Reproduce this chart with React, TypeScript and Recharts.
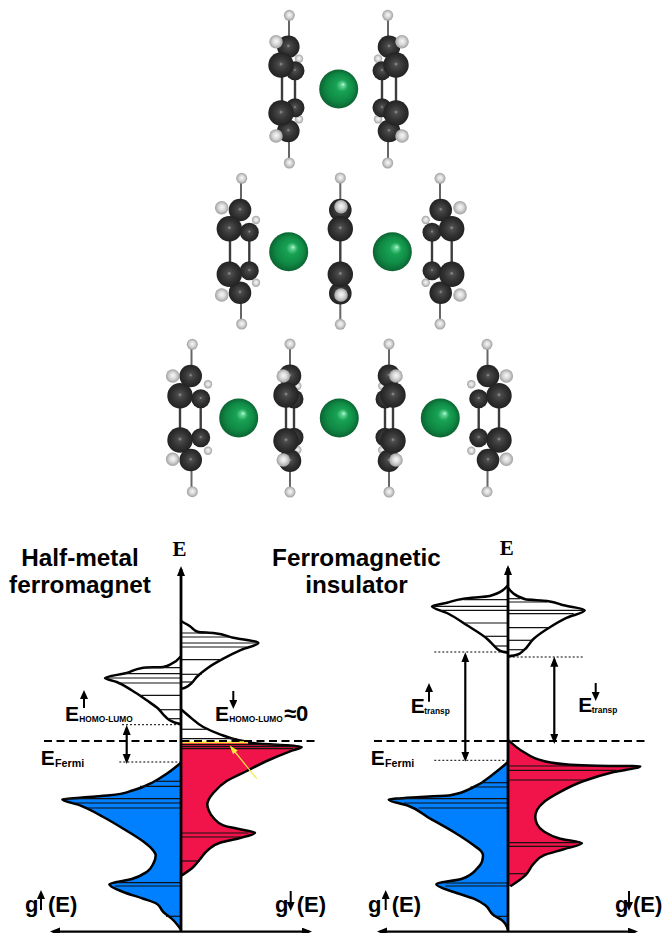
import { Area, ComposedChart, Line, ReferenceLine, Scatter, XAxis, YAxis } from 'recharts'

const W = 663
const H = 933
const FERMI_Y = 741

// molecule atoms, picture units
const smallHydrogens = [
  [299, 58.7], [299, 119.3], [378, 58.7], [378, 119.3],
  [256, 220], [256, 282.7], [425.7, 220], [425.7, 282.7],
  [208, 384.3], [208, 450.7], [297.3, 386], [297.3, 450], [382.3, 386], [382.3, 450], [471.3, 384.3], [471.3, 450.7],
]
const backCarbons = [
  [295, 70.7], [295, 107.7], [382, 70.7], [382, 107.7],
  [249.3, 232.3], [249.3, 270.7], [432, 232.3], [432, 270.7],
  [200.7, 398.7], [200.7, 437.7], [294, 399], [294, 437.3], [385, 399], [385, 437.3], [478.7, 398.7], [478.7, 437.7],
]
const endCarbons = [
  [288.3, 46.7], [288.3, 131], [389, 46.7], [389, 131],
  [240, 210], [240, 292.7], [340.3, 210], [340.3, 293.3], [440.7, 210], [440.7, 292.7],
  [190.7, 376], [190.7, 460], [290, 375.7], [290, 460.7], [389, 375.7], [389, 460.7], [488, 376], [488, 460],
]
const frontCarbons = [
  [281, 65], [281, 113], [396, 65], [396, 113],
  [229.3, 228.7], [229.3, 274.3], [340.3, 228.7], [340.3, 274.3], [451.7, 228.7], [451.7, 274.3],
  [180, 395.7], [180, 440], [286, 395], [286, 440.7], [393, 395], [393, 440.7], [499, 395.7], [499, 440],
]
const sideHydrogens = [
  [276, 41.7], [276, 136], [402, 41.7], [402, 136],
  [221.7, 207.7], [221.7, 295], [341, 206.7], [341, 295], [460, 207.7], [460, 295],
  [172.7, 376], [172.7, 459.3], [283.3, 376], [283.3, 460], [396, 376], [396, 460], [506.3, 376], [506.3, 459.3],
]
const endHydrogens = [
  [289.3, 15.3], [289.3, 163], [387.7, 15.3], [387.7, 163],
  [241.7, 178.3], [241.7, 324], [340.3, 178], [340.3, 324.3], [440, 178.3], [440, 324],
  [192.3, 344.3], [192.3, 491.7], [290, 344], [290, 492], [389, 344], [389, 492], [487, 344.3], [487, 491.7],
]
const metals = [
  [338.7, 89], [288.7, 251.7], [392.3, 251.7], [238.7, 418], [339.3, 418], [440.3, 418],
]
// x, y start, y end
const ringBonds = [
  [282, 65, 113], [295, 70, 108], [382, 70, 108], [396, 65, 113],
  [230, 228, 274], [249.3, 232, 271], [340.3, 228, 274], [432, 232, 271], [451.7, 228, 274],
  [180, 395, 440], [200.7, 398, 438], [286, 395, 440], [294, 398, 438], [385, 398, 438], [393, 395, 440], [478.7, 398, 438], [499, 395, 440],
]
const hydrogenBonds = [
  [289, 15, 47], [289, 131, 163], [388, 15, 47], [388, 131, 163],
  [241, 178, 210], [241, 293, 324], [340.3, 178, 210], [340.3, 293, 324], [440, 178, 210], [440, 293, 324],
  [191.5, 344, 376], [191.5, 460, 492], [290, 344, 376], [290, 460, 492], [389, 344, 376], [389, 460, 492], [487.5, 344, 376], [487.5, 460, 492],
]

// density of states, [g, E] with E measured from the Fermi level
const halfUpEmpty = [
  [0, 84.7], [-9.3, 77.3], [-17.7, 74], [-37.7, 73.3], [-54.3, 68], [-76, 63], [-64.3, 59], [-49.3, 50.7],
  [-34.3, 40.7], [-22.7, 32.3], [-16, 24.7], [-7.7, 19], [0, 16.7],
]
const halfDownEmptyTop = [
  [0, 120], [9, 114.7], [17.3, 109], [32.3, 108], [52.3, 103.3], [77.3, 98], [60.7, 91.3], [42.3, 82.3],
  [25.7, 72.3], [15.7, 64], [10.7, 58], [4, 53.3], [0, 52.3],
]
const halfDownEmptyLow = [
  [0, 31.7], [9, 24], [22.3, 14], [39, 6.7], [55.7, 1.3], [69, -1.3],
]
const halfDownFilled = [
  [67.3, -1.7], [89, -3.3], [105.7, -4.3], [120.7, -6], [109, -10.3], [85.7, -20], [65.7, -30], [45.7, -40],
  [32.3, -52], [28, -58], [26.3, -63.3], [28, -70], [32.3, -76.7], [42.3, -84.3], [59, -88.3], [74, -91.7], [59, -97], [39, -101.7],
  [27.3, -108.7], [19, -118.3], [12.3, -126], [0, -135],
]
const halfUpFilled = [
  [0, -21.7], [-14.3, -32.7], [-27.7, -41], [-47.7, -49.3], [-71, -54.3], [-101, -56.7], [-118.7, -58.3],
  [-101, -64.3], [-77.7, -76], [-57.7, -87.7], [-37, -101], [-29.3, -107.7], [-25.3, -114.3], [-27.7, -122.7], [-34.3, -131],
  [-50, -138.3], [-71.7, -143.3], [-57.7, -151], [-37.7, -157.7], [-24.3, -162.7], [-17.7, -171], [-9.3, -177.7], [0, -188.7],
]
const insUpEmpty = [
  [0, 155.7], [-18.3, 145], [-44.3, 142.3], [-61, 138.3], [-76, 134.7], [-61, 128], [-41, 115.7], [-21, 102.3],
  [-14.3, 95.7], [-7.7, 90], [0, 88.3],
]
const insDownEmpty = [
  [0, 153.3], [17.3, 141.7], [39, 140], [55.7, 135.7], [76.7, 130.7], [59, 123.3], [42.3, 114], [25.7, 102.3],
  [15.7, 90.7], [9, 86.3], [0, 84.7],
]
const insDownFilled = [
  [0.7, 0.7], [15.7, -11], [35.7, -20], [62.3, -23.7], [89, -24.7], [132.3, -25.3], [105.7, -31], [75.7, -40],
  [49, -52.7], [36, -61], [29, -69], [27.3, -76], [29, -83], [35.7, -90.3], [52.3, -97.7], [74, -102], [55.7, -108.3], [35.7, -114.3],
  [25.7, -122.7], [17.3, -134.3], [2.3, -145.3],
]
const insUpFilled = [
  [0, -21], [-14.3, -32.7], [-34.3, -46], [-57.7, -54.3], [-87.7, -56], [-119.3, -58.7], [-101, -64.3], [-77.7, -77.7],
  [-54.3, -91], [-34.3, -104.3], [-27, -110], [-25, -114.3], [-26, -120.7], [-31, -127.7], [-46, -137.7], [-71.7, -143.3], [-54.3, -151],
  [-34.3, -157.7], [-22.7, -164.3], [-14.3, -174.3], [-6, -179.3], [0, -188.7],
]

// energy levels, [E, g at the end of the level]
const halfLevels = [
  [73.3, -37.7], [67.3, -56], [63, -76], [58, -63], [45.7, -42.7], [31.3, -21.7], [22.3, -12.7],
  [108, 32.3], [104, 50.7], [98, 77.3], [94, 65.7], [81.3, 41.7], [66.7, 20.7], [59, 12.3],
  [11.7, 25.7], [2.3, 55.7],
  [-40.3, -26], [-45.3, -41], [-57.7, -117.7], [-62, -107.7], [-67, -94.3], [-141.7, -62.7], [-145, -66],
  [-175.3, -15],
  [-3.7, 100], [-5.7, 115], [-7.7, 112], [-92, 67.3], [-96, 60.7], [-120, 19],
]
const insLevels = [
  [141.3, -44.3], [134.7, -75], [130.7, -67.7], [118, -44.3], [104.7, -22.7], [95, -12.7],
  [142.3, 12.3], [139, 39], [130.7, 75.7], [127.3, 65.7], [113.3, 42.3], [100.7, 24], [91.3, 15.7],
  [-25, 122.3], [-29.3, 108.7], [-39, 77.3], [-101.7, 72.3], [-105.3, 62.3], [-132.7, 19],
  [-41.7, -27.7], [-46, -37.7], [-57.7, -111], [-62, -104.3], [-67, -89.3], [-142, -62.7], [-145, -62.7], [-175.3, -14.3],
]

// guides: [g start, g end, E]
const halfDotted = [[-59, 0, 16.3], [-61.7, 0, -21]]
const insDotted = [[-73.7, 0, 89], [0.7, 75.7, 84], [-73.7, 0, -19.3]]
// double arrows: [g, E start, E end]
const halfGaps = [[-54.3, 13, -20]]
const insGaps = [[-42.7, 85.7, -17.7], [46.3, 81.3, 0]]
// spin arrows: [g, E tail, E tip]
const halfSpins = [[-140, -169, -153], [109.7, -150, -166], [-97, 33, 47], [52.3, 50, 36]]
const insSpins = [[-122.3, -169, -153], [121, -150, -166], [-79, 39.3, 54], [87.7, 58, 44]]

const halfTexts = [
  { t: 'Half-metal', x: 80, y: 566, s: 24.3, a: 'middle' },
  { t: 'ferromagnet', x: 80, y: 593, s: 24.3, a: 'middle' },
  { t: 'E', x: 179.5, y: 556, s: 21, a: 'middle', serif: true },
  { t: 'E', x: 65, y: 720.7, s: 21 },
  { t: 'HOMO-LUMO', x: 79.3, y: 722, s: 8.4 },
  { t: 'E', x: 215, y: 720.7, s: 21 },
  { t: 'HOMO-LUMO', x: 229.3, y: 722, s: 8.4 },
  { t: '≈0', x: 284, y: 721, s: 22 },
  { t: 'E', x: 40.7, y: 765, s: 21 },
  { t: 'Fermi', x: 55, y: 766.7, s: 10.7 },
  { t: 'g', x: 25, y: 912, s: 22 },
  { t: '(E)', x: 48, y: 912, s: 22 },
  { t: 'g', x: 275, y: 912, s: 22 },
  { t: '(E)', x: 296.7, y: 912, s: 22 },
]
const insTexts = [
  { t: 'Ferromagnetic', x: 356.5, y: 566, s: 24.3, a: 'middle' },
  { t: 'insulator', x: 356.5, y: 593, s: 24.3, a: 'middle' },
  { t: 'E', x: 506.7, y: 555, s: 21, a: 'middle', serif: true },
  { t: 'E', x: 410.7, y: 713.3, s: 21 },
  { t: 'transp', x: 424.3, y: 714, s: 8.4 },
  { t: 'E', x: 578.3, y: 712.3, s: 21 },
  { t: 'transp', x: 591.7, y: 713, s: 8.4 },
  { t: 'E', x: 370.7, y: 765, s: 21 },
  { t: 'Fermi', x: 385, y: 766.7, s: 10.7 },
  { t: 'g', x: 368, y: 912, s: 22 },
  { t: '(E)', x: 391.7, y: 912, s: 22 },
  { t: 'g', x: 615, y: 912, s: 22 },
  { t: '(E)', x: 633, y: 912, s: 22 },
]

const rows = (pts: number[][]) => pts.map(([g, e]) => ({ g, e }))
const atoms = (pts: number[][]) => pts.map(([x, y]) => ({ x, y }))

const ball = (id: string, r: number) => (p: any) => <circle cx={p.cx} cy={p.cy} r={r} fill={`url(#${id})`} />

const defs = (
  <defs>
    <radialGradient id="carbon" cx="50%" cy="50%" r="50%" fx="50%" fy="46%">
      <stop offset="0%" stopColor="#9a9a9a" />
      <stop offset="16%" stopColor="#4c4c4c" />
      <stop offset="55%" stopColor="#353535" />
      <stop offset="100%" stopColor="#222222" />
    </radialGradient>
    <radialGradient id="hydrogen" cx="50%" cy="50%" r="50%" fx="52%" fy="45%">
      <stop offset="0%" stopColor="#f8f8f8" />
      <stop offset="50%" stopColor="#d8d8d8" />
      <stop offset="100%" stopColor="#a0a0a0" />
    </radialGradient>
    <radialGradient id="metal" cx="50%" cy="50%" r="50%" fx="62%" fy="38%">
      <stop offset="0%" stopColor="#c8f8dc" />
      <stop offset="10%" stopColor="#62d494" />
      <stop offset="30%" stopColor="#18a254" />
      <stop offset="72%" stopColor="#0f8844" />
      <stop offset="100%" stopColor="#0b6432" />
    </radialGradient>
    <marker id="head" markerUnits="userSpaceOnUse" markerWidth="10" markerHeight="10" refX="7" refY="4" orient="auto-start-reverse">
      <path d="M0,0 L10,4 L0,8 Z" fill="#000" />
    </marker>
    <marker id="spin" markerUnits="userSpaceOnUse" markerWidth="9" markerHeight="9" refX="5" refY="4" orient="auto">
      <path d="M0,0 L9,4 L0,8 Z" fill="#000" />
    </marker>
    <marker id="yellow" markerUnits="userSpaceOnUse" markerWidth="10" markerHeight="8" refX="7" refY="3" orient="auto">
      <path d="M0,0 L9,3 L0,6 Z" fill="#f6e93a" />
    </marker>
  </defs>
)

function Molecules() {
  return (
    <ComposedChart width={W} height={H} margin={{ top: 0, right: 0, bottom: 0, left: 0 }}>
      {defs}
      <XAxis hide type="number" dataKey="x" domain={[0, W]} />
      <YAxis hide type="number" dataKey="y" domain={[0, H]} reversed />
      {ringBonds.map(([x, a, b], i) => (
        <Line key={'r' + i} data={[{ x, y: a }, { x, y: b }]} dataKey="y" stroke="#3c3c3c" strokeWidth={2.4} dot={false} isAnimationActive={false} />
      ))}
      {hydrogenBonds.map(([x, a, b], i) => (
        <Line key={'h' + i} data={[{ x, y: a }, { x, y: b }]} dataKey="y" stroke="#666" strokeWidth={2} dot={false} isAnimationActive={false} />
      ))}
      <Scatter data={atoms(smallHydrogens)} shape={ball('hydrogen', 4.2)} isAnimationActive={false} />
      <Scatter data={atoms(backCarbons)} shape={ball('carbon', 9.5)} isAnimationActive={false} />
      <Scatter data={atoms(endCarbons)} shape={ball('carbon', 11.3)} isAnimationActive={false} />
      <Scatter data={atoms(frontCarbons)} shape={ball('carbon', 12.7)} isAnimationActive={false} />
      <Scatter data={atoms(sideHydrogens)} shape={ball('hydrogen', 6.8)} isAnimationActive={false} />
      <Scatter data={atoms(endHydrogens)} shape={ball('hydrogen', 5.5)} isAnimationActive={false} />
      <Scatter data={atoms(metals)} shape={ball('metal', 19.5)} isAnimationActive={false} />
    </ComposedChart>
  )
}

function DosPanel({ axisX, empties, down, up, levels, dotted, gaps, spins, texts, fermi, top, span, children }: any) {
  return (
    <ComposedChart layout="vertical" width={W} height={H} margin={{ top: 0, right: 0, bottom: 0, left: 0 }}>
      {defs}
      <XAxis hide type="number" domain={[-axisX, W - axisX]} />
      <YAxis hide type="number" dataKey="e" domain={[FERMI_Y - H, FERMI_Y]} reversed />
      {empties.map((s: number[][], i: number) => (
        <Area key={i} data={rows(s)} dataKey="g" type="monotone" baseValue={0} fill="#fff" fillOpacity={1} stroke="#000" strokeWidth={2.5} dot={false} activeDot={false} isAnimationActive={false} />
      ))}
      <Area data={rows(down)} dataKey="g" type="monotone" baseValue={0} fill="#f0144a" fillOpacity={1} stroke="#000" strokeWidth={2.5} dot={false} activeDot={false} isAnimationActive={false} />
      <Area data={rows(up)} dataKey="g" type="monotone" baseValue={0} fill="#0080ff" fillOpacity={1} stroke="#000" strokeWidth={2.5} dot={false} activeDot={false} isAnimationActive={false} />
      {levels.map(([e, g]: number[], i: number) => (
        <ReferenceLine key={'l' + i} segment={[{ x: 0, y: e }, { x: g, y: e }]} stroke="#111" strokeWidth={1.2} ifOverflow="visible" />
      ))}
      {children}
      <ReferenceLine segment={[{ x: fermi[0], y: 0 }, { x: fermi[1], y: 0 }]} stroke="#000" strokeWidth={2.2} strokeDasharray="8 4.5" ifOverflow="visible" />
      {dotted.map(([a, b, e]: number[], i: number) => (
        <ReferenceLine key={'d' + i} segment={[{ x: a, y: e }, { x: b, y: e }]} stroke="#000" strokeWidth={1} strokeDasharray="2 2" ifOverflow="visible" />
      ))}
      {gaps.map(([g, a, b]: number[], i: number) => (
        <ReferenceLine key={'g' + i} segment={[{ x: g, y: a }, { x: g, y: b }]} stroke="#000" strokeWidth={2.2} markerStart="url(#head)" markerEnd="url(#head)" ifOverflow="visible" />
      ))}
      {spins.map(([g, a, b]: number[], i: number) => (
        <ReferenceLine key={'s' + i} segment={[{ x: g, y: a }, { x: g, y: b }]} stroke="#000" strokeWidth={2} markerEnd="url(#spin)" ifOverflow="visible" />
      ))}
      <ReferenceLine segment={[{ x: 0, y: -190 }, { x: 0, y: top }]} stroke="#000" strokeWidth={2.8} markerEnd="url(#head)" ifOverflow="visible" />
      <ReferenceLine segment={[{ x: span[0], y: -190.6 }, { x: span[1], y: -190.6 }]} stroke="#000" strokeWidth={2.2} markerStart="url(#head)" markerEnd="url(#head)" ifOverflow="visible" />
      {texts.map((t: any, i: number) => (
        <text key={'t' + i} x={t.x} y={t.y} fontSize={t.s} textAnchor={t.a || 'start'} fontWeight="bold" fill="#000" fontFamily={t.serif ? 'Liberation Serif' : 'Liberation Sans'}>
          {t.t}
        </text>
      ))}
    </ComposedChart>
  )
}

const layer: any = { position: 'absolute', left: 0, top: 0, width: W, height: H }

export default function App() {
  return (
    <div style={{ ...layer, background: '#fff', overflow: 'hidden' }}>
      <div style={layer}>
        <Molecules />
      </div>
      <div style={layer}>
        <DosPanel axisX={181} empties={[halfUpEmpty, halfDownEmptyTop, halfDownEmptyLow]} down={halfDownFilled} up={halfUpFilled} levels={halfLevels} dotted={halfDotted} gaps={halfGaps} spins={halfSpins} texts={halfTexts} fermi={[-137, 134]} top={172} span={[-128, 128]}>
          <ReferenceLine segment={[{ x: 0, y: -1.3 }, { x: 67, y: -1.3 }]} stroke="#f6e93a" strokeWidth={2} ifOverflow="visible" />
          <ReferenceLine segment={[{ x: 75.7, y: -37.7 }, { x: 50, y: -6 }]} stroke="#f6e93a" strokeWidth={1.2} markerEnd="url(#yellow)" ifOverflow="visible" />
        </DosPanel>
      </div>
      <div style={layer}>
        <DosPanel axisX={508} empties={[insUpEmpty, insDownEmpty]} down={insDownFilled} up={insUpFilled} levels={insLevels} dotted={insDotted} gaps={insGaps} spins={insSpins} texts={insTexts} fermi={[-134, 138]} top={173} span={[-128, 127]} />
      </div>
    </div>
  )
}
